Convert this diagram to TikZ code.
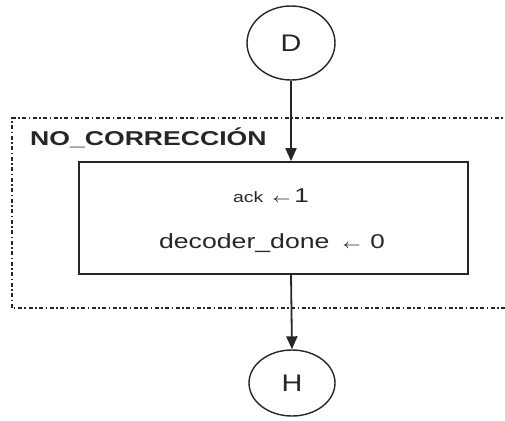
\documentclass[tikz,border=0pt]{standalone}
\usepackage{amsmath}
\usepackage{fontspec}
\setmainfont{Liberation Sans}
\usetikzlibrary{arrows.meta,shapes.geometric}
\tikzset{
  ink/.style={draw=black!85, line width=1.6pt},
  term/.style={ellipse, ink, line width=1.4pt, inner sep=0pt, text=black!85},
  procbox/.style={rectangle, ink, line width=1.7pt, inner sep=0pt},
  flow/.style={ink, line width=1.8pt, -{Triangle[length=13pt,width=11pt]}},
  group/.style={draw=black!85, line width=1.8pt, dash pattern=on 4pt off 2.5pt on 1.5pt off 2.5pt},
  txt/.style={text=black!85, inner sep=0pt, anchor=base}
}
\newcommand{\sx}[2][1.3]{\scalebox{#1}[1]{#2}}
\begin{document}
\begin{tikzpicture}[x=1pt,y=-1pt]
\useasboundingbox (0,0) rectangle (505,420);
\clip (0,0) rectangle (505,420);
% group frame
\draw[group] (530,118) -- (12,118) -- (12,308) -- (530,308);
\node[txt, anchor=base west, font=\fontsize{20}{24}\selectfont\bfseries] (lbl) at (30,145) {\sx[1.33]{NO\_CORRECCIÓN}};
% terminals
\node[term, minimum width=88pt, minimum height=74pt] (d) at (291,43) {\fontsize{24}{28}\selectfont\sx[1.2]{D}};
\node[term, minimum width=86pt, minimum height=66pt] (h) at (292,383) {\fontsize{24}{28}\selectfont\sx[1.2]{H}};
% process box
\node[procbox, minimum width=389pt, minimum height=112pt] (box) at (273.5,218) {};
\node[txt] (l1) at (271,202) {\fontsize{15}{18}\selectfont\sx{ack}\hspace{9pt}\fontsize{13}{16}\selectfont\sx{$\boldsymbol{\leftarrow}$}\hspace{4pt}\fontsize{20}{24}\selectfont\sx{1}};
\node[txt] (l2) at (272,248) {\fontsize{20.5}{24}\selectfont\sx{decoder\_done}\hspace{13pt}\fontsize{13}{16}\selectfont\sx{$\boldsymbol{\leftarrow}$}\hspace{10pt}\fontsize{20}{24}\selectfont\sx{0}};
% connectors
\draw[flow] (d.south) -- (d.south |- box.north);
\draw[flow] (d.south |- box.south) -- (h.north);
\end{tikzpicture}
\end{document}
